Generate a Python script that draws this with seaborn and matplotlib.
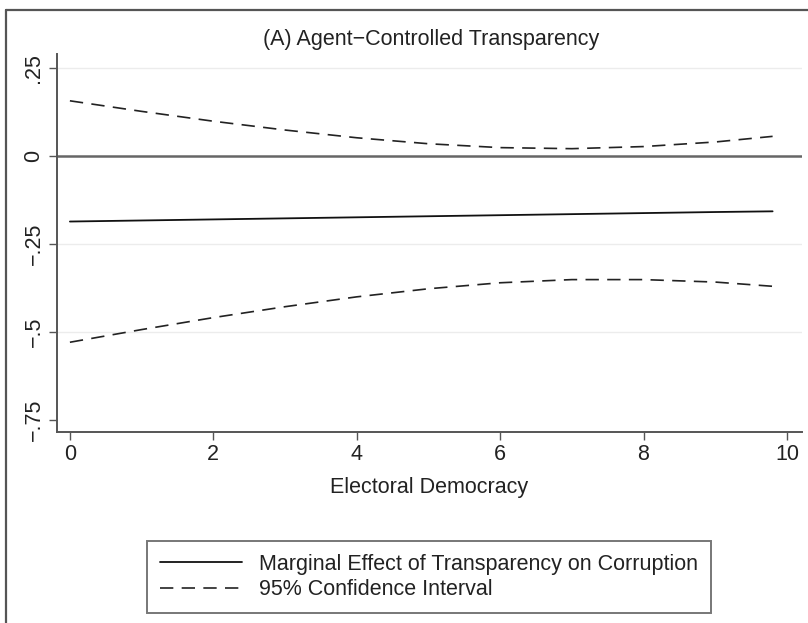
import matplotlib
matplotlib.use("Agg")
import matplotlib.pyplot as plt
from matplotlib.lines import Line2D
import seaborn as sns
import pandas as pd

# ---- data ----
democracy = [0, 1, 2, 3, 4, 5, 6, 7, 8, 9, 9.8]
marginal_effect = [-0.186, -0.183, -0.180, -0.177, -0.174, -0.171, -0.168, -0.165, -0.162, -0.159, -0.157]
ci_upper = [0.157, 0.127, 0.099, 0.074, 0.052, 0.035, 0.024, 0.021, 0.027, 0.040, 0.056]
ci_lower = [-0.529, -0.493, -0.459, -0.428, -0.400, -0.377, -0.360, -0.351, -0.351, -0.358, -0.370]

x_ticks = [0, 2, 4, 6, 8, 10]
y_ticks = [0.25, 0, -0.25, -0.5, -0.75]
y_tick_labels = [".25", "0", "\u2212.25", "\u2212.5", "\u2212.75"]
grid_levels = [0.25, -0.25, -0.5]

title = "(A) Agent\u2212Controlled Transparency"
x_label = "Electoral Democracy"
legend_labels = ["Marginal Effect of Transparency on Corruption", "95% Confidence Interval"]

df = pd.DataFrame({"x": democracy, "me": marginal_effect, "hi": ci_upper, "lo": ci_lower})

sns.set_theme(style="white")
plt.rcParams["font.family"] = ["Liberation Sans", "DejaVu Sans"]
FS = 15.5

W, H = 808, 623
fig = plt.figure(figsize=(W / 100, H / 100), dpi=100)
fig.patch.set_facecolor("white")

# outer frame (left and top visible)
frame_col = "#555555"
fig.add_artist(Line2D([5.5 / W, 5.5 / W], [0, 1 - 9.5 / H], transform=fig.transFigure,
                      color=frame_col, lw=1.6))
fig.add_artist(Line2D([5.5 / W, 1], [1 - 9.5 / H, 1 - 9.5 / H], transform=fig.transFigure,
                      color=frame_col, lw=1.6))

left, right, top, bottom = 57, 802, 54, 432
ax = fig.add_axes([left / W, 1 - bottom / H, (right - left) / W, (bottom - top) / H])
ax.set_facecolor("white")

for g in grid_levels:
    ax.axhline(g, color="#ececec", lw=1.0, zorder=0)
ax.axhline(0, color="#666666", lw=1.8, zorder=1)

sns.lineplot(data=df, x="x", y="me", ax=ax, color="#111111", lw=1.3, legend=False, zorder=3)
dash = (8, 5)
sns.lineplot(data=df, x="x", y="hi", ax=ax, color="#222222", lw=1.2, legend=False, zorder=3)
sns.lineplot(data=df, x="x", y="lo", ax=ax, color="#222222", lw=1.2, legend=False, zorder=3)
ax.lines[-1].set_dashes(dash)
ax.lines[-2].set_dashes(dash)

ax.set_xlim(-0.18, 10.21)
ax.set_ylim(-0.784, 0.290)

ax.set_xticks(x_ticks)
ax.set_xticklabels([str(t) for t in x_ticks])
ax.set_yticks(y_ticks)
ax.set_yticklabels(y_tick_labels, rotation=90, va="center")

for s in ["top", "right"]:
    ax.spines[s].set_visible(False)
for s in ["left", "bottom"]:
    ax.spines[s].set_color("#555555")
    ax.spines[s].set_linewidth(1.4)

ax.tick_params(axis="both", which="major", direction="out", length=6, width=1.0,
               color="#555555", labelsize=FS, labelcolor="#222222", left=True, bottom=True)
ax.tick_params(axis="y", pad=3)
ax.tick_params(axis="x", pad=3)

ax.set_xlabel(x_label, fontsize=FS, color="#222222", labelpad=8)
ax.set_ylabel("")

fig.text(0.534, 1 - 39 / H, title, ha="center", va="center", fontsize=FS, color="#222222")

handles = [Line2D([], [], color="#111111", lw=1.3),
           Line2D([], [], color="#222222", lw=1.2, dashes=dash)]
leg = fig.legend(handles, legend_labels, loc="center",
                 bbox_to_anchor=(429 / W, 1 - 577 / H), fontsize=FS, frameon=True,
                 fancybox=False, shadow=False, handlelength=3.8, handletextpad=0.8,
                 borderpad=0.6, labelspacing=0.2, borderaxespad=0)
leg.get_frame().set_edgecolor("#555555")
leg.get_frame().set_linewidth(1.4)
for t in leg.get_texts():
    t.set_color("#222222")

fig.savefig("out.png", dpi=100, facecolor="white")
